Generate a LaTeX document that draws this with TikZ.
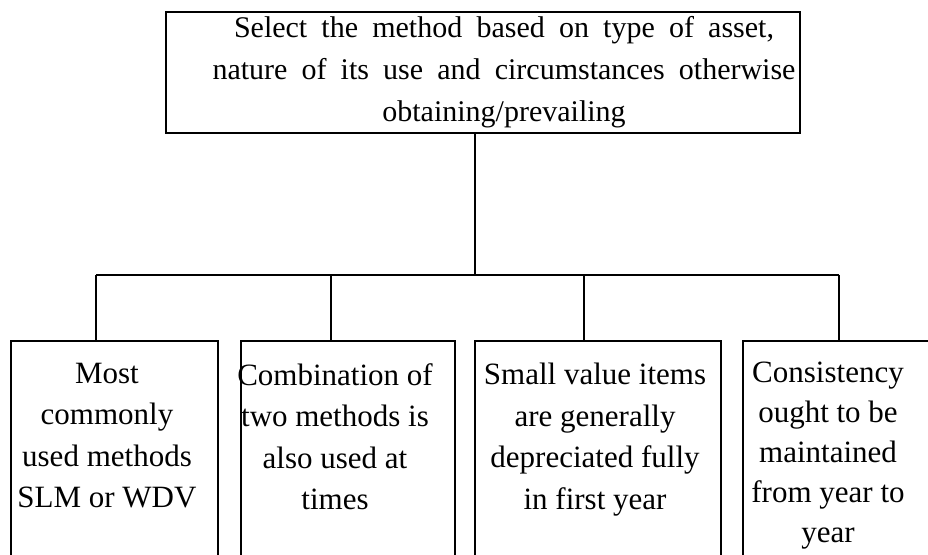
\documentclass[tikz,border=0pt]{standalone}
\usepackage{fontspec}
\setmainfont{Liberation Serif}
\begin{document}
\begin{tikzpicture}[x=1pt,y=1pt,
  boxstyle/.style={draw, line width=1.6pt, inner sep=0pt},
  toptxt/.style={font=\fontsize{30}{42}\selectfont, align=center, inner sep=0pt, anchor=north},
  subtxt/.style={font=\fontsize{31}{41.5}\selectfont, align=center, inner sep=0pt, anchor=north},
  conn/.style={line width=1.6pt}]
\useasboundingbox (0,0) rectangle (928,554);
\clip (0,0) rectangle (928,554);
% top box
\node[boxstyle, minimum width=634, minimum height=121] (top) at (483,481.5) {};
\node[toptxt] (toptext) at (504,537.5)
  {\makebox[540pt][s]{Select the method based on type of asset,}\\
   \makebox[583pt][s]{nature of its use and circumstances otherwise}\\
   obtaining/prevailing};
% bottom boxes (open at the bottom of the page)
\node[boxstyle, minimum width=207, minimum height=260, anchor=north] (b1) at (114.5,214) {};
\node[boxstyle, minimum width=214, minimum height=260, anchor=north] (b2) at (348,214) {};
\node[boxstyle, minimum width=246, minimum height=260, anchor=north] (b3) at (598,214) {};
\node[boxstyle, minimum width=210, minimum height=260, anchor=north] (b4) at (848,214) {};
\node[subtxt] (t1) at (107,191) {Most\\commonly\\used methods\\SLM or WDV};
\node[subtxt] (t2) at (335,191) {Combination of\\two methods is\\also used at\\times};
\node[subtxt] (t3) at (595,191) {Small value items\\are generally\\depreciated fully\\in first year};
\node[subtxt, font=\fontsize{31}{40}\selectfont] (t4) at (828,192) {Consistency\\ought to be\\maintained\\from year to\\year};
% connectors
\coordinate (j) at (475,279);
\coordinate (d1) at (96,279);
\coordinate (d2) at (331,279);
\coordinate (d3) at (584,279);
\coordinate (d4) at (839,279);
\draw[conn] (top.south -| j) -- (j);
\draw[conn] (d1) -- (d4);
\draw[conn] (d1) -- (d1 |- b1.north);
\draw[conn] (d2) -- (d2 |- b2.north);
\draw[conn] (d3) -- (d3 |- b3.north);
\draw[conn] (d4) -- (d4 |- b4.north);
\end{tikzpicture}
\end{document}
